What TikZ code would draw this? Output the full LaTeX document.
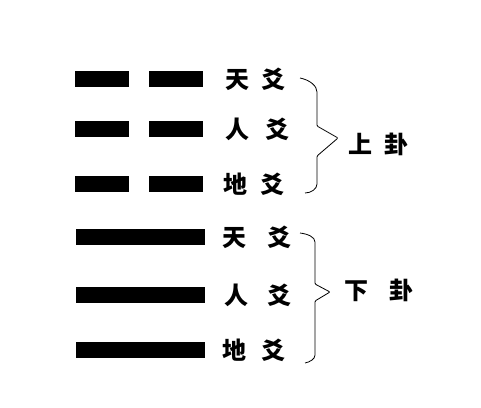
\documentclass[tikz,border=0pt]{standalone}
\usepackage{fontspec}
\newfontfamily\cjk{Noto Sans CJK SC}
\usetikzlibrary{positioning}
\tikzset{x=1pt, y=-1pt,
	yin/.style={
		rectangle,
		fill=black,
		inner sep=0pt,
		minimum width=54pt,
		minimum height=16pt},
	yang/.style={
		yin,
		minimum width=129pt},
	yao/.style={
		inner sep=0pt,
		font=\cjk\bfseries\fontsize{24}{24}\selectfont},
	brace/.style={
		draw,
		line width=0.8pt,
		rounded corners=1pt}
}

\begin{document}
\begin{tikzpicture}
	\useasboundingbox (0,0) rectangle (481,407);
	% upper trigram
	\node[yin] (a1) at (102,79) {};
	\node[yin, right=20pt of a1] (b1) {};
	\node[yin] (a2) at (102,129) {};
	\node[yin, right=20pt of a2] (b2) {};
	\node[yin] (a3) at (102,184) {};
	\node[yin, right=20pt of a3] (b3) {};
	% lower trigram
	\node[yang] (c4) at (140.5,237) {};
	\node[yang] (c5) at (140.5,295) {};
	\node[yang] (c6) at (140.5,350) {};
	% labels
	\node[yao] (t1) at (255,79) {天\hspace{12pt}爻};
	\node[yao] (t2) at (257.5,129) {人\hspace{17pt}爻};
	\node[yao] (t3) at (254,184) {地\hspace{14pt}爻};
	\node[yao] (t4) at (257,237) {天\hspace{22pt}爻};
	\node[yao] (t5) at (258,295) {人\hspace{20pt}爻};
	\node[yao] (t6) at (253.5,350) {地\hspace{15pt}爻};
	\node[yao] (up) at (378,144) {上\hspace{12pt}卦};
	\node[yao] (dn) at (379,290) {下\hspace{22pt}卦};
	% braces
	\coordinate (u0) at (300,78);
	\coordinate (u1) at (317,93);
	\coordinate (ut) at (338,138);
	\coordinate (u2) at (317,183);
	\coordinate (u3) at (305,193);
	\draw[brace] (u0) .. controls (310,80) and (317,86) .. (u1)
		-- (317,126) -- (ut) -- (317,156) -- (u2)
		.. controls (317,189) and (311,193) .. (u3);
	\coordinate (d0) at (300,233);
	\coordinate (d1) at (315,243);
	\coordinate (dt) at (330,292);
	\coordinate (d2) at (315,354);
	\coordinate (d3) at (305,363);
	\draw[brace] (d0) .. controls (308,234) and (315,237) .. (d1)
		-- (315,284) -- (dt) -- (315,301) -- (d2)
		.. controls (315,359) and (310,362) .. (d3);
\end{tikzpicture}
\end{document}
